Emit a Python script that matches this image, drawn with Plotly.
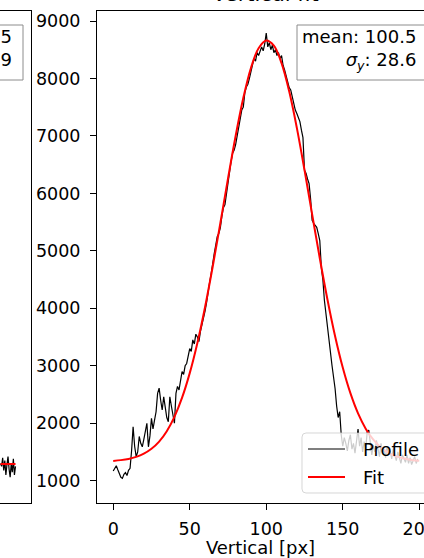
import plotly.graph_objects as go

W, H = 424, 558

# ---------------- data ----------------
pixel = list(range(200))
profile = [
    1170, 1230, 1260, 1190, 1120, 1060, 1040, 1110, 1140, 1090,
    1180, 1215, 1520, 1940, 1600, 1420, 1500, 1770, 1650, 1590,
    1720, 1860, 2000, 1590, 1780, 2085, 1900, 2055, 2200, 2520,
    2610, 2400, 2230, 2460, 2300, 2100, 2025, 2460, 2300, 2170,
    2000, 2520, 2640, 2580, 2750, 2900, 2850, 3000, 3040, 3150,
    3300, 3250, 3450, 3380, 3550, 3500, 3420, 3600, 3700, 3850,
    3950, 4100, 4300, 4450, 4600, 4800, 4950, 5100, 5250, 5300,
    5400, 5600, 5750, 5800, 6000, 6150, 6400, 6550, 6700, 6750,
    6850, 7000, 7200, 7300, 7450, 7500, 7750, 7850, 7900, 8000,
    8100, 8250, 8350, 8300, 8450, 8400, 8500, 8550, 8480, 8600,
    8790, 8550, 8620, 8500, 8580, 8450, 8500, 8400, 8450, 8350,
    8400, 8230, 8150, 8050, 7950, 7840, 7800, 7670, 7600, 7450,
    7390, 7320, 7250, 7100, 6970, 6400, 6350, 6250, 6170, 5900,
    5530, 5480, 5450, 5410, 5300, 5180, 4710, 4500, 4140, 3900,
    3650, 3400, 3200, 3000, 2800, 2600, 2300, 2100, 2200, 1800,
    1600, 1750, 1650, 1520, 1700, 1800, 1550, 1650, 1480, 1700,
    1900, 1600, 1750, 1500, 1680, 1560, 1850, 1880, 1600, 1450,
    1620, 1500, 1700, 1580, 1420, 1650, 1480, 1550, 1400, 1600,
    1450, 1520, 1380, 1560, 1430, 1350, 1500, 1400, 1300, 1450,
    1380, 1320, 1450, 1300, 1400, 1280, 1350, 1420, 1300, 1380,
]
fit_x = list(range(0, 205, 5))
fit_y = [
    1345, 1358, 1379, 1414, 1470, 1555, 1681, 1862, 2112, 2445,
    2872, 3398, 4019, 4723, 5481, 6256, 6999, 7659, 8182, 8526,
    8660, 8570, 8266, 7776, 7140, 6409, 5636, 4871, 4154, 3514,
    2969, 2523, 2172, 1906, 1713, 1576, 1484, 1423, 1385, 1361, 1347,
]
# tail of the neighbouring (horizontal) panel
h_pixel = list(range(185, 200))
h_profile = [1300, 1250, 1400, 1180, 1350, 1100, 1280, 1420, 1200, 1060,
             1300, 1150, 1380, 1100, 1250]
h_fit_x = [185, 190, 195, 199]
h_fit_y = [1292, 1290, 1289, 1289]

x_ticks = [0, 50, 100, 150, 200]
y_ticks = [1000, 2000, 3000, 4000, 5000, 6000, 7000, 8000, 9000]

mean_v, sigma_v = 100.5, 28.6
h_mean, h_sigma = 98.5, 31.9
labels = ["Profile", "Fit"]


def px(p):
    return p / W


def py(p):
    return 1 - p / H


FONT = "DejaVu Sans"
FS = 18
TFS = 17.5

fig = go.Figure()
fig.add_trace(go.Scatter(x=pixel, y=profile, mode="lines", name=labels[0],
                         line=dict(color="black", width=1.2)))
fig.add_trace(go.Scatter(x=fit_x, y=fit_y, mode="lines", name=labels[1],
                         line=dict(color="red", width=2, shape="spline")))
fig.add_trace(go.Scatter(x=h_pixel, y=h_profile, mode="lines", xaxis="x2", yaxis="y2",
                         line=dict(color="black", width=1.2), showlegend=False))
fig.add_trace(go.Scatter(x=h_fit_x, y=h_fit_y, mode="lines", xaxis="x2", yaxis="y2",
                         line=dict(color="red", width=2), showlegend=False))

ydom = [py(503), py(11)]
fig.update_layout(
    width=W, height=H,
    margin=dict(l=0, r=0, t=0, b=0, autoexpand=False),
    paper_bgcolor="white", plot_bgcolor="white",
    showlegend=False,
    font=dict(family=FONT, size=FS, color="black"),
    xaxis=dict(domain=[px(97), 1], range=[-10.6, 203.1], tickvals=x_ticks,
               ticks="outside", ticklen=6, tickwidth=1, tickcolor="black",
               showline=True, linecolor="black", linewidth=1, mirror=True,
               showgrid=False, zeroline=False, ticklabelstandoff=4,
               ticklabeloverflow="allow", tickfont=dict(size=TFS),
               automargin=False,
               title=dict(text="Vertical [px]", standoff=5, font=dict(size=FS)),
               anchor="y"),
    yaxis=dict(domain=ydom, range=[612, 9174], tickvals=y_ticks,
               ticks="outside", ticklen=6, tickwidth=1, tickcolor="black",
               showline=True, linecolor="black", linewidth=1, mirror=False,
               showgrid=False, zeroline=False, ticklabelstandoff=6,
               automargin=False, tickfont=dict(size=TFS), anchor="x"),
    xaxis2=dict(domain=[0, px(31)], range=[184.5, 213.5],
                showline=True, linecolor="black", linewidth=1, mirror=True,
                ticks="", showticklabels=False, showgrid=False, zeroline=False,
                automargin=False, anchor="y2"),
    yaxis2=dict(domain=ydom, range=[612, 9174], side="right",
                showline=True, linecolor="black", linewidth=1,
                ticks="", showticklabels=False, showgrid=False, zeroline=False,
                automargin=False, anchor="x2"),
)


def rrect(x0, y0, x1, y1, r=4):
    X0, X1 = px(x0), px(x1)
    Y0, Y1 = py(y0), py(y1)
    rx, ry = r / W, r / H
    return (f"M{X0+rx},{Y0} L{X1-rx},{Y0} Q{X1},{Y0} {X1},{Y0-ry} "
            f"L{X1},{Y1+ry} Q{X1},{Y1} {X1-rx},{Y1} L{X0+rx},{Y1} "
            f"Q{X0},{Y1} {X0},{Y1+ry} L{X0},{Y0-ry} Q{X0},{Y0} {X0+rx},{Y0} Z")


shapes = [
    # stats boxes
    dict(type="rect", xref="paper", yref="paper", x0=px(297), x1=px(460),
         y0=py(80), y1=py(25), line=dict(color="#8c8c8c", width=1),
         fillcolor="white", layer="above"),
    dict(type="rect", xref="paper", yref="paper", x0=px(-80), x1=px(23),
         y0=py(80), y1=py(25), line=dict(color="#8c8c8c", width=1),
         fillcolor="white", layer="above"),
    # legend box
    dict(type="path", xref="paper", yref="paper", path=rrect(302, 433, 432, 493),
         line=dict(color="rgba(204,204,204,0.8)", width=1),
         fillcolor="rgba(255,255,255,0.8)", layer="above"),
    dict(type="line", xref="paper", yref="paper", x0=px(308), x1=px(345),
         y0=py(449), y1=py(449), line=dict(color="black", width=1.2), layer="above"),
    dict(type="line", xref="paper", yref="paper", x0=px(308), x1=px(345),
         y0=py(477), y1=py(477), line=dict(color="red", width=2), layer="above"),
]
fig.update_layout(shapes=shapes)

ann = [
    dict(text="Vertical fit", xref="paper", yref="paper", x=px(265), y=1,
         xanchor="center", yanchor="bottom", yshift=-8, showarrow=False,
         font=dict(size=21, family=FONT)),
    dict(text=f"mean: {mean_v}<br><i>σ</i><sub><i>y</i></sub>: {sigma_v}",
         xref="paper", yref="paper", x=px(418), y=py(50), xanchor="right",
         yanchor="middle", align="right", showarrow=False,
         font=dict(size=FS, family=FONT)),
    dict(text=f"mean: {h_mean}<br><i>σ</i><sub><i>x</i></sub>: {h_sigma}",
         xref="paper", yref="paper", x=px(14), y=py(50), xanchor="right",
         yanchor="middle", align="right", showarrow=False,
         font=dict(size=FS, family=FONT)),
    dict(text=labels[0], xref="paper", yref="paper", x=px(361), y=py(449),
         xanchor="left", yanchor="middle", showarrow=False,
         font=dict(size=FS, family=FONT)),
    dict(text=labels[1], xref="paper", yref="paper", x=px(361), y=py(477),
         xanchor="left", yanchor="middle", showarrow=False,
         font=dict(size=FS, family=FONT)),
]
fig.update_layout(annotations=ann)

fig.write_html("out.html")
